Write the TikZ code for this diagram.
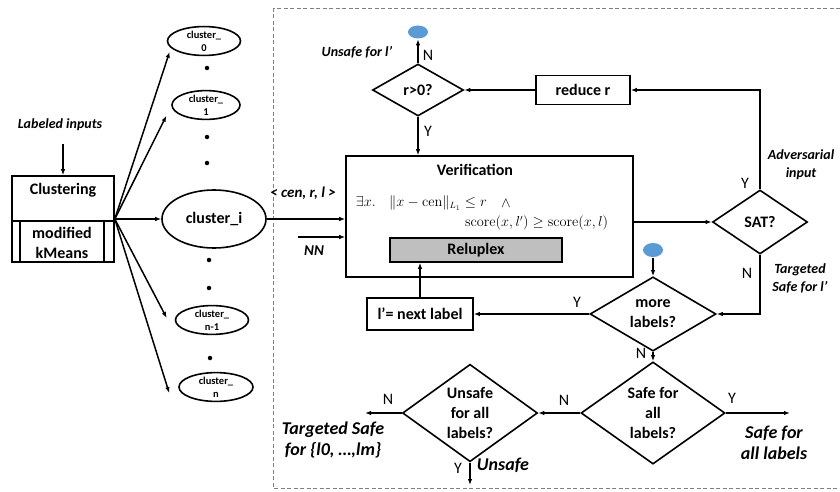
\documentclass[tikz,border=0pt]{standalone}
\usepackage[no-math]{fontspec}
\setmainfont{Carlito}
\usetikzlibrary{shapes.geometric,arrows.meta,calc}
\definecolor{termblue}{HTML}{5B9BD5}
\begin{document}
\begin{tikzpicture}[x=1pt,y=-1pt,
  line width=1.6pt,
  >={Latex[length=6pt,width=4.5pt]},
  arr/.style={->, line width=1.5pt},
  txt/.style={inner sep=0pt, font=\fontsize{16}{20}\selectfont\bfseries, align=center},
  lbl/.style={inner sep=0pt, font=\fontsize{16}{20}\selectfont},
  note/.style={inner sep=0pt, font=\fontsize{14}{18}\selectfont\bfseries\itshape, align=center},
  result/.style={inner sep=0pt, font=\fontsize{18}{21}\selectfont\bfseries\itshape, align=center},
  box/.style={draw, rectangle, inner sep=0pt, font=\fontsize{16}{20}\selectfont\bfseries, align=center},
  oval/.style={draw, ellipse, inner sep=0pt, font=\fontsize{10.5}{13}\selectfont\bfseries, align=center},
  decision/.style={draw, diamond, inner sep=0pt, font=\fontsize{16}{20}\selectfont\bfseries, align=center},
  terminal/.style={ellipse, fill=termblue, minimum width=20pt, minimum height=13pt, inner sep=0pt},
  dotmark/.style={circle, fill, inner sep=0pt, minimum size=4.5pt},
  formula/.style={inner sep=0pt, font=\fontsize{13.5}{16}\selectfont},
]
\useasboundingbox (0,0) rectangle (840,492);

% verification region
\draw[gray, line width=0.8pt, dash pattern=on 4pt off 2.5pt] (273,8) rectangle (850,488);

% clustering stage
\node[note] (lab) at (60,125) {Labeled inputs};
\node[box, minimum width=102pt, minimum height=86pt] (clu) at (63,219) {};
\node[txt] (clut) at (63,190) {Clustering};
\node[txt] (kmt) at (62,243) {modified\\kMeans};
\draw ([yshift=-46pt]clu.north west) -- ([yshift=-46pt]clu.north east);
\draw ([xshift=9pt,yshift=-46pt]clu.north west) -- ([xshift=9pt]clu.south west);
\draw ([xshift=-11pt,yshift=-46pt]clu.north east) -- ([xshift=-11pt]clu.south east);
\draw[arr] (lab.south -| clu.north) ++(0,12) -- (clu.north);

% clusters
\node[oval, minimum width=73pt, minimum height=24pt] (c0) at (204,41) {cluster\_\\0};
\node[oval, minimum width=68pt, minimum height=24pt] (c1) at (206,105) {cluster\_\\1};
\node[oval, minimum width=104pt, minimum height=58pt, font=\fontsize{16}{20}\selectfont\bfseries] (ci) at (214,219) {cluster\_i};
\node[oval, minimum width=73pt, minimum height=27pt] (cn1) at (212,320) {cluster\_\\n-1};
\node[oval, minimum width=74pt, minimum height=27pt] (cn) at (216,387) {cluster\_\\n};
\node[dotmark] (d1) at (207,68) {};
\node[dotmark] (d2) at (207,137) {};
\node[dotmark] (d3) at (207,163) {};
\node[dotmark] (d4) at (209,260) {};
\node[dotmark] (d5) at (209,288) {};
\node[dotmark] (d6) at (210,358) {};

\coordinate (fan) at (clu.east);
\draw[arr] (fan) -- ([xshift=-8pt]c0.south west);
\draw[arr] (fan) -- ([xshift=-15pt]c1.south west);
\draw[arr] (fan) -- (ci.west);
\draw[arr] (fan) -- ([xshift=-8pt,yshift=2pt]cn1.west);
\draw[arr] (fan) -- ([xshift=-9pt,yshift=-6pt]cn.west);

% verification box
\node[box, minimum width=287pt, minimum height=121pt] (ver) at (489.5,216.5) {};
\node[txt] (vert) at (475,170) {Verification};
\node[formula, anchor=west] (f1) at (355,203) {$\exists x.\quad \|x-\mathrm{cen}\|_{L_1}\le r$};
\node[formula] (f2) at (506,203) {$\wedge$};
\node[formula, anchor=east] (f3) at (609,223) {$\mathrm{score}(x,l')\ge\mathrm{score}(x,l)$};
\node[box, fill=gray!50, minimum width=172pt, minimum height=24pt] (rel) at (476,250) {Reluplex};

% inputs
\draw[arr] (ci.east) -- (ci.east -| ver.west);
\node[note, font=\fontsize{15}{18}\selectfont\bfseries\itshape] (cen) at (303,193) {< cen, r, l >};
\coordinate (nnstart) at (298,237);
\draw[arr] (nnstart) -- (nnstart -| ver.west);
\node[note, font=\fontsize{15}{18}\selectfont\bfseries\itshape] (nn) at (314,251) {NN};

% radius loop
\node[decision, minimum width=91pt, minimum height=52pt] (r0) at (418,90) {r>0?};
\node[terminal] (e1) at (418,32) {};
\draw[arr] (r0.north) -- (e1.south);
\node[lbl] (n1) at (428,55) {N};
\node[note] (uns1) at (357,52) {Unsafe for l’};
\draw[arr] (r0.south) -- (r0.south |- ver.north);
\node[lbl] (y1) at (428,131) {Y};
\node[box, minimum width=94pt, minimum height=29pt] (rr) at (583,90) {reduce r};
\draw[arr] (rr.west) -- (r0.east);

% SAT check
\node[decision, minimum width=95pt, minimum height=64pt] (sat) at (760,222) {SAT?};
\draw[arr] (ver.east |- sat.west) -- (sat.west);
\draw[arr] (sat.north) |- (rr.east);
\node[lbl] (y2) at (745,183) {Y};
\node[note] (adv) at (801,165) {Adversarial\\input};

% label loop
\node[decision, minimum width=126pt, minimum height=58pt] (ml) at (653,314) {more\\labels?};
\node[terminal, minimum height=14pt] (e2) at (653,250) {};
\draw[arr] (e2.south) -- (ml.north);
\draw[arr] (sat.south) |- (ml.east);
\node[lbl] (n2) at (747,273) {N};
\node[note] (tsl) at (800,278) {Targeted\\Safe for l’};
\node[box, minimum width=106pt, minimum height=32pt] (nl) at (420,314) {l’= next label};
\draw[arr] (ml.west) -- (nl.east);
\node[lbl] (y3) at (577,302) {Y};
\draw[arr] (nl.north) -- (nl.north |- rel.south);

% final decisions
\node[decision, minimum width=144pt, minimum height=84pt] (sa) at (653,413) {Safe for\\all\\labels?};
\draw[arr] (ml.south) -- (sa.north);
\node[lbl] (n3) at (641,353) {N};
\coordinate (safeend) at (790,413);
\draw[arr] (sa.east) -- (safeend);
\node[lbl] (y4) at (732,398) {Y};
\node[result] (safe) at (774,443) {Safe for\\all labels};

\node[decision, minimum width=135pt, minimum height=85pt] (ua) at (470,413) {Unsafe\\for all\\labels?};
\draw[arr] (sa.west) -- (ua.east);
\node[lbl] (n4) at (564,400) {N};
\coordinate (tsend) at (365,413);
\draw[arr] (ua.west) -- (tsend);
\node[lbl] (n5) at (388,399) {N};
\node[result] (tsafe) at (333,440) {Targeted Safe\\for \{l0, …,lm\}};
\coordinate (unsend) at (470,485);
\draw[arr] (ua.south) -- (unsend);
\node[lbl] (y5) at (458,468) {Y};
\node[result] (uns2) at (503,465) {Unsafe};
\end{tikzpicture}
\end{document}
